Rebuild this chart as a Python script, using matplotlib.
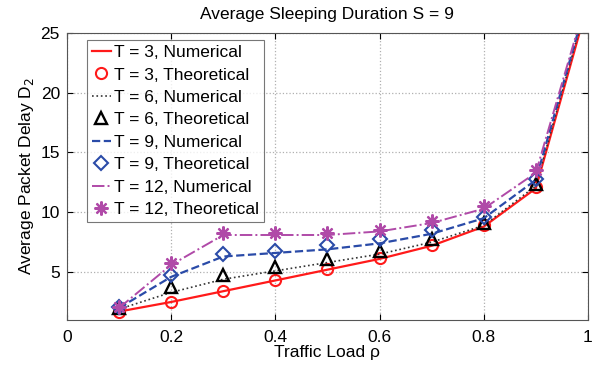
import matplotlib
matplotlib.use("Agg")
import matplotlib.pyplot as plt

plt.rcParams['font.family'] = ['Liberation Sans', 'DejaVu Sans']

rho = [0.1, 0.2, 0.3, 0.4, 0.5, 0.6, 0.7, 0.8, 0.9, 1.0]

t3_num = [1.7, 2.5, 3.4, 4.3, 5.2, 6.1, 7.2, 8.8, 12.0, 27.5]
t3_the = [1.7, 2.5, 3.45, 4.33, 5.25, 6.15, 7.3, 8.9, 12.1, 27.5]
t6_num = [1.9, 3.3, 4.4, 5.1, 5.8, 6.5, 7.5, 8.9, 12.2, 27.8]
t6_the = [2.0, 3.75, 4.75, 5.45, 6.1, 6.8, 7.8, 9.1, 12.4, 27.8]
t9_num = [2.0, 4.6, 6.3, 6.6, 6.9, 7.4, 8.2, 9.5, 12.7, 28.0]
t9_the = [2.1, 4.75, 6.5, 6.8, 7.25, 7.75, 8.5, 9.6, 12.8, 28.0]
t12_num = [2.0, 5.6, 8.1, 8.1, 8.1, 8.4, 9.1, 10.3, 13.3, 28.2]
t12_the = [2.1, 5.8, 8.3, 8.25, 8.25, 8.55, 9.3, 10.5, 13.5, 28.2]

red = '#ff1a1a'
black = '#000000'
blue = '#2a4ba8'
mag = '#b04aa8'

fig = plt.figure(figsize=(6.03, 3.69), dpi=100)
ax = fig.add_axes([0.111, 0.133, 0.864, 0.778])

ax.plot(rho, t3_num, '-', color=red, lw=1.6, label='T = 3, Numerical')
ax.plot(rho, t3_the, 'o', color=red, mfc='none', mew=1.5, ms=8, label='T = 3, Theoretical')
ax.plot(rho, t6_num, ':', color='#333333', lw=1.2, label='T = 6, Numerical')
ax.plot(rho, t6_the, '^', color=black, mfc='none', mew=1.7, ms=8, label='T = 6, Theoretical')
ax.plot(rho, t9_num, '--', color=blue, lw=1.6, label='T = 9, Numerical')
ax.plot(rho, t9_the, 'D', color=blue, mfc='none', mew=1.5, ms=7, label='T = 9, Theoretical')
ax.plot(rho, t12_num, '-.', color=mag, lw=1.4, label='T = 12, Numerical')
ax.plot(rho, t12_the, marker=(8, 2, 0), ls='none', color=mag, mew=1.6, ms=10, label='T = 12, Theoretical')

ax.set_xlim(0, 1)
ax.set_ylim(1, 25)
ax.set_xticks([0, 0.2, 0.4, 0.6, 0.8, 1])
ax.set_xticklabels(['0', '0.2', '0.4', '0.6', '0.8', '1'])
ax.set_yticks([5, 10, 15, 20, 25])
ax.grid(True, linestyle=':', color='#b0b0b0', lw=0.9)
ax.tick_params(direction='in', labelsize=12.5, top=True, right=True, length=4)
ax.tick_params(axis='x', pad=7)
ax.tick_params(axis='y', pad=5)
for s in ax.spines.values():
    s.set_color('#555555')

ax.set_title('Average Sleeping Duration S = 9', fontsize=12.5, pad=10)
ax.set_xlabel('Traffic Load ρ', fontsize=12.5, labelpad=0)
ax.set_ylabel('Average Packet Delay D$_2$', fontsize=12.5, labelpad=3)

leg = ax.legend(loc='upper left', fontsize=12.5, frameon=True, fancybox=False,
                handlelength=1.1, handletextpad=0.15,
                labelspacing=0.42, borderpad=0.3, borderaxespad=0,
                bbox_to_anchor=(0.038, 0.976))
leg.get_frame().set_edgecolor('#555555')
leg.get_frame().set_linewidth(0.8)

fig.savefig('out.png', dpi=100)
